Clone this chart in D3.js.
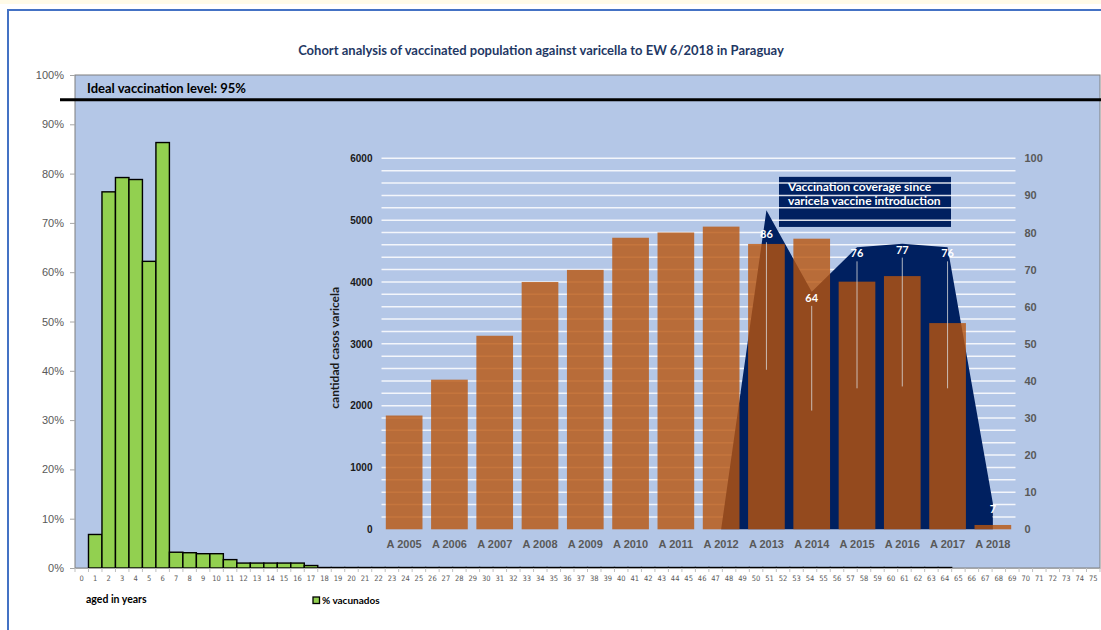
<!DOCTYPE html>
<html>
<head>
<meta charset="utf-8">
<script src="https://cdn.jsdelivr.net/npm/d3@7"></script>
<style>
  body { margin: 0; background: #fff; }
  svg { display: block; font-family: Lato, "Open Sans", sans-serif; }
</style>
</head>
<body>
<div id="chart"></div>
<script>
// cohort data: % vaccinated by age (0..75)
const ages = [
  0, 1, 2, 3, 4, 5, 6, 7, 8, 9, 10, 11, 12, 13, 14, 15, 16, 17, 18, 19,
  20, 21, 22, 23, 24, 25, 26, 27, 28, 29, 30, 31, 32, 33, 34, 35, 36, 37, 38, 39,
  40, 41, 42, 43, 44, 45, 46, 47, 48, 49, 50, 51, 52, 53, 54, 55, 56, 57, 58, 59,
  60, 61, 62, 63, 64, 65, 66, 67, 68, 69, 70, 71, 72, 73, 74, 75
];
const pctVacunados = [
  0, 6.8, 76.3, 79.2, 78.8, 62.2, 86.3, 3.2, 3.1, 2.9, 2.9, 1.7, 1.0, 1.0, 1.0, 1.0, 1.0, 0.5, 0.1, 0.1,
  0.1, 0.1, 0.1, 0.1, 0.1, 0.1, 0.1, 0.1, 0.1, 0.1, 0.1, 0.1, 0.1, 0.1, 0.1, 0.1, 0.1, 0.1, 0.1, 0.1,
  0.1, 0.1, 0.1, 0.1, 0.1, 0.1, 0.1, 0.1, 0.1, 0.1, 0.1, 0.1, 0.1, 0.1, 0.1, 0.1, 0.1, 0.1, 0.1, 0.1,
  0.1, 0.1, 0.1, 0.1, 0.1, 0, 0, 0, 0, 0, 0, 0, 0, 0, 0, 0
];
const pctTicks = [0, 10, 20, 30, 40, 50, 60, 70, 80, 90, 100];
const idealLevel = 95;

// inset: varicella cases per year + coverage since vaccine introduction
const years = ["A 2005", "A 2006", "A 2007", "A 2008", "A 2009", "A 2010", "A 2011",
               "A 2012", "A 2013", "A 2014", "A 2015", "A 2016", "A 2017", "A 2018"];
const casos = [1840, 2420, 3130, 4000, 4195, 4715, 4800, 4895, 4615, 4700, 4005, 4095, 3335, 70];
const cobertura = [null, null, null, null, null, null, null, 0, 86, 64, 76, 77, 76, 7];
const casosTicks = [0, 1000, 2000, 3000, 4000, 5000, 6000];
const coberturaTicks = [0, 10, 20, 30, 40, 50, 60, 70, 80, 90, 100];

const W = 1101, H = 630;
const svg = d3.select('#chart').append('svg')
    .attr('width', W)
    .attr('height', H);

// page bits
svg.append('rect').attr('x', 0).attr('y', 0).attr('width', W).attr('height', 4).attr('fill', '#fffbe8');
svg.append('rect').attr('x', 8).attr('y', 10).attr('width', W).attr('height', H)
    .attr('fill', '#fff').attr('stroke', '#4472c4').attr('stroke-width', 2);

// main plot area
const pL = 75, pR = 1100, pT = 75, pB = 568;
svg.append('rect').attr('x', pL).attr('y', pT).attr('width', pR - pL).attr('height', pB - pT)
    .attr('fill', '#b4c7e7').attr('stroke', '#7f7f7f').attr('stroke-width', 1);

const x = d3.scaleBand().domain(ages).range([pL, pR]).padding(0);
const y = d3.scaleLinear().domain([0, 100]).range([pB, pT]);

// title
svg.append('text')
    .attr('x', 541).attr('y', 55)
    .attr('text-anchor', 'middle')
    .attr('fill', '#1f3864')
    .style('font-size', '13px').style('font-weight', 'bold')
    .text('Cohort analysis of vaccinated population against varicella to EW 6/2018 in Paraguay');

// left % axis
svg.append('g')
    .attr('transform', `translate(${pL},0)`)
    .call(d3.axisLeft(y).tickValues(pctTicks).tickSize(5).tickFormat(d => d + '%'))
    .call(g => g.select('.domain').remove())
    .call(g => g.selectAll('line').attr('stroke', '#a6a6a6'))
    .call(g => g.selectAll('text').attr('fill', '#595959').style('font-size', '11px').attr('x', -11));

// inset chart ------------------------------------------------------------
const iL = 381.5, iR = 1015.5, iT = 158.3, iB = 529.3;
const xi = d3.scaleBand().domain(years).range([iL, iR]).paddingInner(0.19).paddingOuter(0.095);
const yL = d3.scaleLinear().domain([0, 6000]).range([iB, iT]);
const yR = d3.scaleLinear().domain([0, 100]).range([iB, iT]);

// annotation box (sits under the gridlines)
svg.append('rect')
    .attr('x', 779).attr('y', yR(95)).attr('width', 172).attr('height', yR(81.5) - yR(95))
    .attr('fill', '#002060');
svg.append('text')
    .attr('x', 788).attr('y', 191)
    .attr('fill', '#fff').style('font-size', '12px').style('font-weight', 'bold')
    .selectAll('tspan')
    .data(['Vaccination coverage since', 'varicela vaccine introduction'])
    .join('tspan')
    .attr('x', 788).attr('dy', (d, i) => i ? 14 : 0)
    .text(d => d);

// gridlines every 200 cases
svg.append('g')
    .selectAll('line')
    .data(d3.range(200, 6001, 200))
    .join('line')
    .attr('x1', iL).attr('x2', iR)
    .attr('y1', d => yL(d)).attr('y2', d => yL(d))
    .attr('stroke', '#fff').attr('stroke-width', 1.5).attr('opacity', 0.85);

// coverage area
const covData = years.map((yr, i) => ({ yr, v: cobertura[i] }));
const area = d3.area()
    .defined(d => d.v !== null)
    .x(d => xi(d.yr) + xi.bandwidth() / 2)
    .y0(yR(0))
    .y1(d => yR(d.v));
svg.append('path').datum(covData).attr('d', area).attr('fill', '#002060');

// case bars
svg.append('g')
    .selectAll('rect')
    .data(years.map((yr, i) => ({ yr, v: casos[i] })))
    .join('rect')
    .attr('x', d => xi(d.yr))
    .attr('y', d => yL(d.v))
    .attr('width', xi.bandwidth())
    .attr('height', d => yL(0) - yL(d.v))
    .attr('fill', 'rgb(185,85,14)')
    .attr('fill-opacity', 0.8);

// coverage labels with leader lines
const labs = covData.filter(d => d.v);
const maxCov = d3.max(cobertura);
const labY = d => yR(d.v) + (d.v === maxCov ? 24 : 6);
svg.append('g')
    .selectAll('line')
    .data(labs)
    .join('line')
    .attr('x1', d => xi(d.yr) + xi.bandwidth() / 2)
    .attr('x2', d => xi(d.yr) + xi.bandwidth() / 2)
    .attr('y1', d => labY(d) + 8)
    .attr('y2', d => yR(d.v / 2))
    .attr('stroke', '#d9d9d9').attr('stroke-width', 1).attr('opacity', 0.8);
svg.append('g')
    .selectAll('text')
    .data(labs)
    .join('text')
    .attr('x', d => xi(d.yr) + xi.bandwidth() / 2)
    .attr('y', d => labY(d) + 4)
    .attr('text-anchor', 'middle')
    .attr('fill', '#fff').style('font-size', '11px').style('font-weight', 'bold')
    .text(d => d.v);

// inset axes
svg.append('g')
    .attr('transform', `translate(${iL - 6},0)`)
    .call(d3.axisLeft(yL).tickValues(casosTicks).tickSize(0).tickFormat(d3.format('d')))
    .call(g => g.select('.domain').remove())
    .call(g => g.selectAll('text').attr('fill', '#1a1a1a').style('font-size', '10px').style('font-weight', 'bold'));

svg.append('g')
    .attr('transform', `translate(${iR + 6},0)`)
    .call(d3.axisRight(yR).tickValues(coberturaTicks).tickSize(0))
    .call(g => g.select('.domain').remove())
    .call(g => g.selectAll('text').attr('fill', '#595959').style('font-size', '11px').style('font-weight', 'bold'));

svg.append('g')
    .attr('transform', `translate(0,${iB})`)
    .call(d3.axisBottom(xi).tickSize(0).tickPadding(11))
    .call(g => g.select('.domain').remove())
    .call(g => g.selectAll('text').attr('fill', '#595959').style('font-size', '11px').style('font-weight', 'bold'));

svg.append('text')
    .attr('transform', `translate(339,${(iT + iB) / 2 + 4}) rotate(-90)`)
    .attr('text-anchor', 'middle')
    .attr('fill', '#1a1a1a').style('font-size', '12px').style('font-weight', 'bold')
    .text('cantidad casos varicela');

// cohort bars (drawn over the inset, as in the original)
svg.append('g')
    .selectAll('rect')
    .data(ages.map((a, i) => ({ a, v: pctVacunados[i] })).filter(d => d.v > 0))
    .join('rect')
    .attr('x', d => x(d.a))
    .attr('y', d => y(d.v))
    .attr('width', x.bandwidth())
    .attr('height', d => y(0) - y(d.v))
    .attr('fill', '#92d050')
    .attr('stroke', '#000').attr('stroke-width', 1.4);

// ideal level line
svg.append('line')
    .attr('x1', 60).attr('x2', W)
    .attr('y1', y(idealLevel)).attr('y2', y(idealLevel))
    .attr('stroke', '#000').attr('stroke-width', 3);
svg.append('text')
    .attr('x', 87).attr('y', 93)
    .attr('fill', '#000').style('font-size', '13px').style('font-weight', 'bold')
    .text(`Ideal vaccination level: ${idealLevel}%`);

// age axis
svg.append('g')
    .attr('transform', `translate(0,${pB})`)
    .call(d3.axisBottom(x).tickSize(0).tickPadding(8))
    .call(g => g.select('.domain').attr('stroke', '#a6a6a6'))
    .call(g => g.selectAll('text').attr('fill', '#595959')
        .style('font-family', '"DejaVu Sans Condensed", "Liberation Sans Narrow", sans-serif')
        .style('font-size', '7.5px'));
svg.append('g')
    .selectAll('line')
    .data(ages.concat([76]))
    .join('line')
    .attr('x1', d => pL + d * x.step()).attr('x2', d => pL + d * x.step())
    .attr('y1', pB).attr('y2', pB + 4)
    .attr('stroke', '#bfbfbf');

svg.append('text')
    .attr('x', 86).attr('y', 603)
    .style('font-size', '10.5px').style('font-weight', 'bold')
    .text('aged in years');

// legend
svg.append('rect')
    .attr('x', 313).attr('y', 597).attr('width', 6.5).attr('height', 6.5)
    .attr('fill', '#92d050').attr('stroke', '#000').attr('stroke-width', 1.3);
svg.append('text')
    .attr('x', 322).attr('y', 604)
    .style('font-size', '10px').style('font-weight', 'bold')
    .text('% vacunados');
</script>
</body>
</html>
